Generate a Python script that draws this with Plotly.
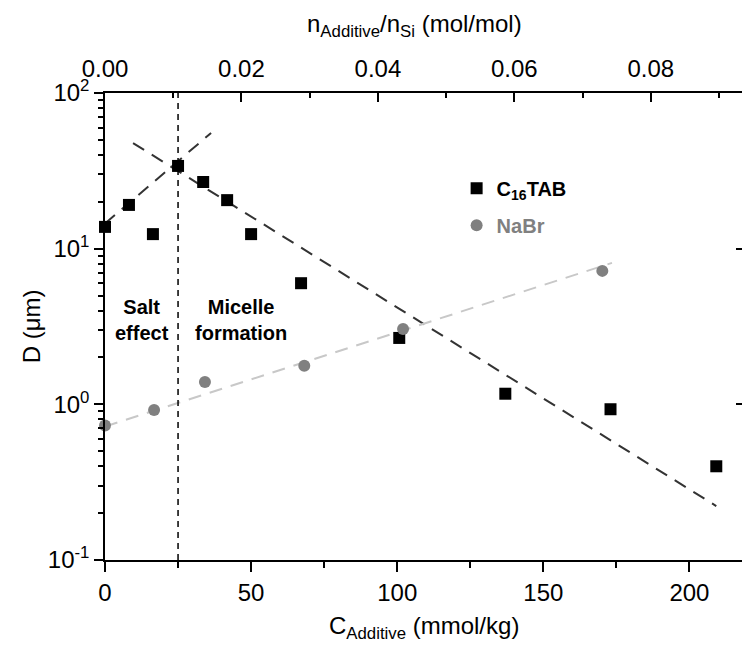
import plotly.graph_objects as go

# ---------------- data ----------------
c16_x = [0, 8.2, 16.4, 25, 33.6, 41.8, 50, 67.1, 100.7, 137, 173, 209.2]
c16_y = [13.8, 19.1, 12.4, 34, 26.8, 20.5, 12.4, 6.0, 2.67, 1.17, 0.93, 0.40]

nabr_x = [0, 16.8, 34.2, 68.2, 102, 170.2]
nabr_y = [0.73, 0.92, 1.39, 1.77, 3.05, 7.2]

fit_salt_x = [0, 36.3]
fit_salt_y = [14.5, 55.4]
fit_mic_x = [9.6, 209.2]
fit_mic_y = [47.7, 0.222]
fit_nabr_x = [0, 173.5]
fit_nabr_y = [0.72, 8.1]

cmc_x = 25

x_max = 218.0
ratio_per_unit = 0.01 / 23.35   # n_Additive/n_Si per mmol/kg

y_tickvals = [0.1, 1, 10, 100]
y_ticktext = ["10<sup>-1</sup>", "10<sup>0</sup>", "10<sup>1</sup>", "10<sup>2</sup>"]
x_tickvals = [0, 50, 100, 150, 200]
top_tickvals = [0.00, 0.02, 0.04, 0.06, 0.08]
top_ticktext = ["0.00", "0.02", "0.04", "0.06", "0.08"]

# ---------------- figure ----------------
FONT = "Liberation Sans, Arial, sans-serif"
fig = go.Figure()

fig.add_trace(go.Scatter(x=fit_salt_x, y=fit_salt_y, mode="lines",
                         line=dict(color="#333333", width=2, dash="13px,9px"),
                         showlegend=False, hoverinfo="skip"))
fig.add_trace(go.Scatter(x=fit_mic_x, y=fit_mic_y, mode="lines",
                         line=dict(color="#333333", width=2, dash="13px,9px"),
                         showlegend=False, hoverinfo="skip"))
fig.add_trace(go.Scatter(x=fit_nabr_x, y=fit_nabr_y, mode="lines",
                         line=dict(color="#c8c8c8", width=2, dash="13px,9px"),
                         showlegend=False, hoverinfo="skip"))

fig.add_trace(go.Scatter(x=c16_x, y=c16_y, mode="markers", cliponaxis=False,
                         name="<b>C<sub>16</sub>TAB</b>", legendgroup="a",
                         marker=dict(symbol="square", size=12, color="black")))
fig.add_trace(go.Scatter(x=nabr_x, y=nabr_y, mode="markers", cliponaxis=False,
                         name="<span style='color:#808080'><b>NaBr</b></span>",
                         legendgroup="b",
                         marker=dict(symbol="circle", size=12, color="#808080")))

# secondary axes carriers
fig.add_trace(go.Scatter(x=[0], y=[1], xaxis="x2", yaxis="y2", mode="markers",
                         marker=dict(opacity=0), showlegend=False, hoverinfo="skip"))

fig.add_vline(x=cmc_x, line=dict(color="black", width=1.5, dash="6px,5px"))

fig.update_layout(
    width=742, height=645,
    margin=dict(l=105, r=0, t=93, b=85),
    plot_bgcolor="white", paper_bgcolor="white",
    font=dict(family=FONT, size=24, color="black"),
    showlegend=True,
    legend=dict(x=0.552, y=0.838, xanchor="left", yanchor="top",
                font=dict(size=20, family=FONT), bgcolor="rgba(0,0,0,0)",
                itemwidth=30, tracegroupgap=8, traceorder="grouped"),
    xaxis=dict(range=[0, x_max], showline=True, linecolor="black", linewidth=1.5,
               ticks="outside", ticklen=10, tickwidth=1.5, tickcolor="black",
               tickvals=x_tickvals, showgrid=False, zeroline=False,
               minor=dict(dtick=25, tick0=0, ticks="outside", ticklen=6,
                          tickwidth=1.5, tickcolor="black", showgrid=False),
               tickfont=dict(size=24)),
    xaxis2=dict(overlaying="x", side="top", anchor="y",
                range=[0, x_max * ratio_per_unit], showline=True,
                linecolor="black", linewidth=1.5, ticks="inside", ticklen=9,
                tickwidth=1.5, tickcolor="black", tickvals=top_tickvals,
                ticktext=top_ticktext, showgrid=False, zeroline=False,
                ticklabelstandoff=5,
                minor=dict(dtick=0.01, tick0=0, ticks="inside", ticklen=5,
                           tickwidth=1.5, tickcolor="black", showgrid=False),
                tickfont=dict(size=24)),
    yaxis=dict(type="log", range=[-1, 2], showline=True, linecolor="black",
               linewidth=1.5, ticks="outside", ticklen=9, tickwidth=1.5,
               tickcolor="black", tickvals=y_tickvals, ticktext=y_ticktext,
               showgrid=False, zeroline=False,
               minor=dict(tickmode="array",
                          tickvals=[m * 10 ** e for e in (-1, 0, 1) for m in range(2, 10)],
                          ticks="outside", ticklen=5, tickwidth=1.5,
                          tickcolor="black", showgrid=False),
               tickfont=dict(size=24)),
    yaxis2=dict(type="log", range=[-1, 2], overlaying="y", side="right",
                anchor="x", showline=False, ticks="inside", ticklen=6,
                tickwidth=1.5, tickcolor="black", tickvals=y_tickvals,
                showticklabels=False, showgrid=False, zeroline=False),
)

# axis titles and region labels
fig.add_annotation(text="D (μm)", xref="paper", yref="paper", x=-0.115, y=0.5,
                   xanchor="center", yanchor="middle", textangle=-90,
                   showarrow=False, font=dict(size=24))
fig.add_annotation(text="C<sub>Additive</sub> (mmol/kg)", xref="paper", yref="paper",
                   x=0.5, y=-0.145, xanchor="center", yanchor="middle",
                   showarrow=False, font=dict(size=24))
fig.add_annotation(text="n<sub>Additive</sub>/n<sub>Si</sub> (mol/mol)", xref="paper",
                   yref="paper", x=0.486, y=1.145, xanchor="center", yanchor="middle",
                   showarrow=False, font=dict(size=24))
fig.add_annotation(text="<b>Salt<br>effect</b>", xref="x", yref="paper", x=12.5,
                   y=0.513, xanchor="center", yanchor="middle", showarrow=False,
                   font=dict(size=20))
fig.add_annotation(text="<b>Micelle<br>formation</b>", xref="x", yref="paper", x=46.5,
                   y=0.513, xanchor="center", yanchor="middle", showarrow=False,
                   font=dict(size=20))

fig.write_html("out.html")
